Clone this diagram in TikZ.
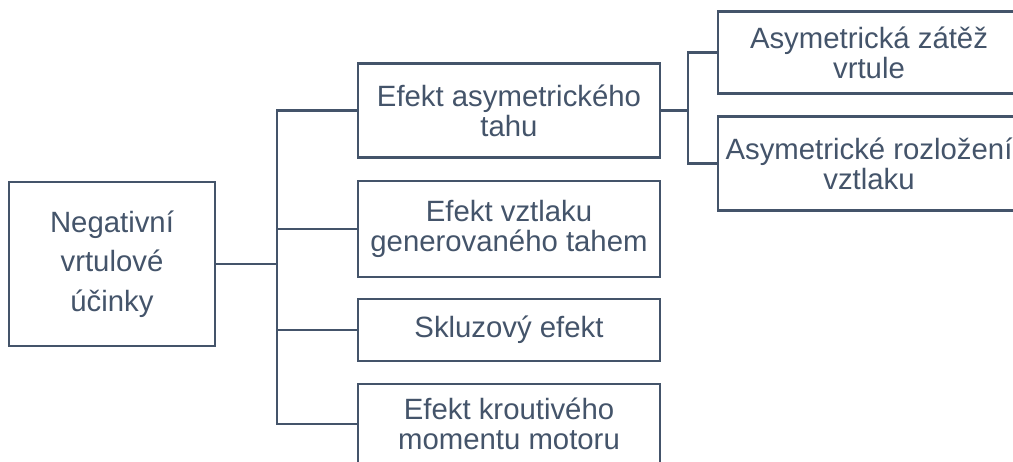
\documentclass[tikz,border=0pt]{standalone}
\usepackage{fontspec}
\setmainfont{Liberation Sans}
\definecolor{slate}{RGB}{68,84,106}
\begin{document}
\begin{tikzpicture}[x=0.75pt,y=-0.75pt,
  box/.style={draw=slate,line width=2.2pt,text=slate,inner sep=0pt,align=center,
    font=\fontsize{22}{22.5}\selectfont},
  child/.style={box,minimum width=226.5pt},
  link/.style={draw=slate,line width=2.2pt}]
\path[use as bounding box,clip] (0,0) rectangle (1013,461);
\fill[white] (0,0) rectangle (1013,461);
\node[box,minimum width=154.5pt,minimum height=123pt,font=\fontsize{22}{29.5}\selectfont] (root) at (112,264) {Negativní\\vrtulové\\účinky};
\node[child,minimum height=71pt] (b1) at (509,110.5) {Efekt asymetrického\\tahu};
\node[child,minimum height=72pt] (b2) at (509,229) {Efekt vztlaku\\generovaného tahem};
\node[child,minimum height=46.5pt] (b3) at (509,330) {Skluzový efekt};
\node[child,minimum height=60pt] (b4) at (509,424) {Efekt kroutivého\\momentu motoru};
\node[box,minimum width=226.5pt,minimum height=61pt] (a) at (869,52.5) {Asymetrická zátěž\\vrtule};
\node[box,minimum width=226.5pt,minimum height=70pt] (b) at (869,163.5) {Asymetrické rozložení\\vztlaku};
\coordinate (tr) at (277,0);
\coordinate (sr) at (688,0);
\foreach \c in {b1,b2,b3,b4}
  \draw[link] (root.east) -- (root.east -| tr) |- (\c.west);
\foreach \c in {a,b}
  \draw[link] (b1.east) -- (b1.east -| sr) |- (\c.west);
\end{tikzpicture}
\end{document}
